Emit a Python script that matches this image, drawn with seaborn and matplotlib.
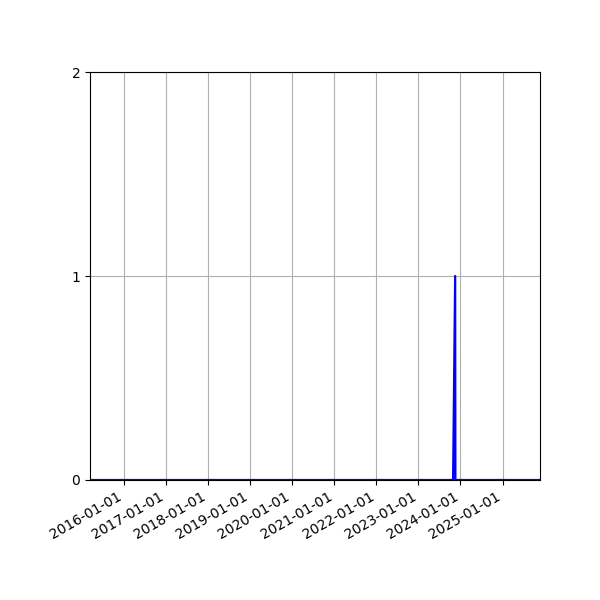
import matplotlib
matplotlib.use("Agg")
import matplotlib.pyplot as plt
import matplotlib.dates as mdates
import pandas as pd
import seaborn as sns

dates = ["2015-03-11", "2023-10-29", "2023-11-16", "2023-11-18", "2025-11-22"]
values = [0, 0, 1, 0, 0]
y_ticks = [0, 1, 2]

df = pd.DataFrame({"date": pd.to_datetime(dates), "value": values})

fig, ax = plt.subplots(figsize=(6, 6), dpi=100)
sns.lineplot(data=df, x="date", y="value", ax=ax, color="#0000ff", linewidth=1.6)

ax.set_xlim(df["date"].min(), df["date"].max())
ax.set_ylim(0, 2)
ax.set_yticks(y_ticks)
ax.xaxis.set_major_locator(mdates.YearLocator())
ax.xaxis.set_major_formatter(mdates.DateFormatter("%Y-%m-%d"))
ax.grid(True, color="#b0b0b0", linewidth=0.8)
ax.set_axisbelow(True)
ax.set_xlabel("")
ax.set_ylabel("")
fig.autofmt_xdate()
fig.subplots_adjust(left=0.15, right=0.9, top=0.88, bottom=0.2)
fig.savefig("out.png", dpi=100)
